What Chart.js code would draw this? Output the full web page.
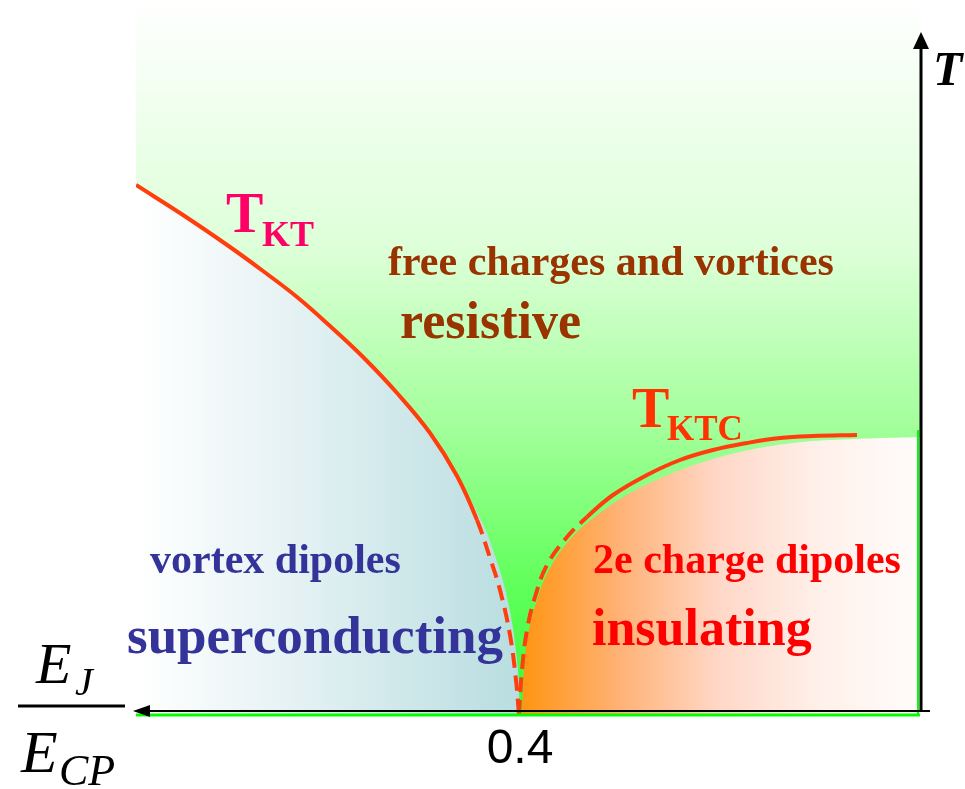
<!DOCTYPE html>
<html>
<head>
<meta charset="utf-8">
<title>JJ array phase diagram</title>
<script src="https://cdn.jsdelivr.net/npm/chart.js@4.4.1/dist/chart.umd.min.js"></script>
<style>
  html, body { margin: 0; padding: 0; background: #fff; }
  #wrap { width: 965px; height: 789px; }
</style>
</head>
<body>
<div id="wrap"><canvas id="phase" width="965" height="789"></canvas></div>
<script>
// E_J/E_CP grows to the left, T grows upward
const ratioMax = 0.784;
const tempMax = 1.43;
const xTicks = [0.4];

// Kosterlitz-Thouless line (vortex unbinding)
const tktRatio = [0.784, 0.737, 0.690, 0.657, 0.623, 0.590, 0.557, 0.523, 0.490, 0.463, 0.443, 0.430, 0.420, 0.410, 0.404, 0.401];
const tktTemp  = [1.06, 1.00, 0.936, 0.888, 0.836, 0.778, 0.716, 0.644, 0.564, 0.478, 0.39, 0.314, 0.25, 0.16, 0.07, 0];
// edge of the superconducting region
const scRatio = [0.784, 0.737, 0.690, 0.657, 0.623, 0.590, 0.557, 0.523, 0.490, 0.463, 0.439, 0.427, 0.413, 0.403, 0.400];
const scTemp  = [1.06, 1.00, 0.936, 0.888, 0.836, 0.778, 0.716, 0.644, 0.564, 0.478, 0.39, 0.33, 0.236, 0.11, 0];

// charge KT line (Cooper pair unbinding)
const tktcRatio = [0.401, 0.398, 0.393, 0.385, 0.373, 0.353, 0.333, 0.307, 0.273, 0.240, 0.207, 0.173, 0.140, 0.107, 0.063];
const tktcTemp  = [0, 0.09, 0.17, 0.236, 0.30, 0.356, 0.396, 0.44, 0.48, 0.51, 0.53, 0.544, 0.554, 0.558, 0.56];
// edge of the insulating region
const insRatio = [0.398, 0.396, 0.392, 0.383, 0.371, 0.348, 0.320, 0.290, 0.257, 0.220, 0.180, 0.135, 0.090, 0];
const insTemp  = [0, 0.09, 0.16, 0.23, 0.29, 0.356, 0.404, 0.444, 0.476, 0.504, 0.526, 0.542, 0.55, 0.556];

// whole resistive background
const resRatio = [ratioMax, 0];
const resTemp  = [tempMax, tempMax];

const LINE_RED = '#ff3d0d';
const SERIF = '"Liberation Serif", "Times New Roman", serif';

function pts(xs, ys) {
    return xs.map((v, i) => ({ x: v, y: ys[i] }));
}

function greenFill(context) {
    const { ctx, chartArea } = context.chart;
    if (!chartArea) return 'transparent';
    const g = ctx.createLinearGradient(0, chartArea.top, 0, chartArea.bottom);
    g.addColorStop(0, '#ffffff');
    g.addColorStop(0.35, '#ddffd8');
    g.addColorStop(0.6, '#a2ff9a');
    g.addColorStop(0.8, '#66ff60');
    g.addColorStop(1, '#33ff33');
    return g;
}

function scFill(context) {
    const { ctx, chartArea, scales } = context.chart;
    if (!chartArea) return 'transparent';
    const g = ctx.createLinearGradient(chartArea.left, 0, scales.x.getPixelForValue(0.4), 0);
    g.addColorStop(0, '#ffffff');
    g.addColorStop(0.4, '#e6f2f4');
    g.addColorStop(1, '#b8dde0');
    return g;
}

function insFill(context) {
    const { ctx, chartArea, scales } = context.chart;
    if (!chartArea) return 'transparent';
    const g = ctx.createLinearGradient(scales.x.getPixelForValue(0.4), 0, chartArea.right, 0);
    g.addColorStop(0, '#ff9410');
    g.addColorStop(0.25, '#ffb276');
    g.addColorStop(0.5, '#ffd8c8');
    g.addColorStop(0.75, '#fff0ea');
    g.addColorStop(1, '#fffcfb');
    return g;
}

function region(data, bg, order) {
    return {
        data: data,
        fill: 'origin',
        backgroundColor: bg,
        borderColor: 'transparent',
        borderWidth: 0,
        pointRadius: 0,
        tension: 0.4,
        order: order
    };
}

function curve(data, dashed) {
    return {
        data: data,
        fill: false,
        borderColor: LINE_RED,
        borderWidth: 4,
        pointRadius: 0,
        tension: 0.4,
        segment: { borderDash: ctx => dashed(ctx) ? [15, 8] : undefined },
        order: 1
    };
}

function drawText(ctx, str, x, y, font, color) {
    ctx.font = font;
    ctx.fillStyle = color;
    ctx.fillText(str, x, y);
}

// axes, arrows and all the labels
const decor = {
    id: 'decor',
    afterDatasetsDraw(chart) {
        const { ctx, chartArea: a, scales } = chart;
        ctx.save();

        // green edges of the plot
        ctx.strokeStyle = '#00ff00';
        ctx.lineWidth = 3;
        ctx.beginPath();
        ctx.moveTo(a.left, a.bottom);
        ctx.lineTo(a.right, a.bottom);
        ctx.stroke();
        ctx.lineWidth = 2;
        ctx.beginPath();
        ctx.moveTo(a.right - 2, 430);
        ctx.lineTo(a.right - 2, a.bottom);
        ctx.stroke();

        // E_J/E_CP axis pointing left
        ctx.strokeStyle = '#000';
        ctx.fillStyle = '#000';
        ctx.lineWidth = 2;
        ctx.beginPath();
        ctx.moveTo(146, a.bottom - 4);
        ctx.lineTo(a.right + 10, a.bottom - 4);
        ctx.stroke();
        ctx.beginPath();
        ctx.moveTo(133, a.bottom - 4);
        ctx.lineTo(150, a.bottom - 10);
        ctx.lineTo(150, a.bottom + 2);
        ctx.closePath();
        ctx.fill();

        // T axis pointing up
        ctx.lineWidth = 3;
        ctx.beginPath();
        ctx.moveTo(a.right + 1, 46);
        ctx.lineTo(a.right + 1, a.bottom - 3);
        ctx.stroke();
        ctx.beginPath();
        ctx.moveTo(a.right + 1, 32);
        ctx.lineTo(a.right - 7, 49);
        ctx.lineTo(a.right + 9, 49);
        ctx.closePath();
        ctx.fill();

        // tick labels
        ctx.textAlign = 'center';
        ctx.textBaseline = 'alphabetic';
        xTicks.forEach(t => {
            drawText(ctx, String(t), scales.x.getPixelForValue(t), 763,
                '48px "Liberation Sans", Arial, sans-serif', '#000');
        });

        ctx.textAlign = 'left';
        // axis titles
        drawText(ctx, 'T', 933, 85, 'italic bold 48px ' + SERIF, '#000');
        drawText(ctx, 'E', 36, 683, 'italic 58px ' + SERIF, '#000');
        drawText(ctx, 'J', 75, 695, 'italic 40px ' + SERIF, '#000');
        ctx.lineWidth = 3;
        ctx.beginPath();
        ctx.moveTo(18, 706);
        ctx.lineTo(125, 706);
        ctx.stroke();
        drawText(ctx, 'E', 21, 772, 'italic 60px ' + SERIF, '#000');
        drawText(ctx, 'CP', 59, 785, 'italic 44px ' + SERIF, '#000');

        // line names
        drawText(ctx, 'T', 226, 232, 'bold 56px ' + SERIF, '#ff0066');
        drawText(ctx, 'KT', 262, 246, 'bold 36px ' + SERIF, '#ff0066');
        drawText(ctx, 'T', 632, 427, 'bold 56px ' + SERIF, '#ff3300');
        drawText(ctx, 'KTC', 667, 440, 'bold 35px ' + SERIF, '#ff3300');

        // phases
        drawText(ctx, 'free charges and vortices', 388, 275, 'bold 42px ' + SERIF, '#993300');
        drawText(ctx, 'resistive', 400, 338, 'bold 52px ' + SERIF, '#993300');
        drawText(ctx, 'vortex dipoles', 150, 573, 'bold 42px ' + SERIF, '#333399');
        drawText(ctx, 'superconducting', 127, 653, 'bold 53px ' + SERIF, '#333399');
        drawText(ctx, '2e charge dipoles', 593, 573, 'bold 42px ' + SERIF, '#ff0000');
        drawText(ctx, 'insulating', 592, 645, 'bold 52px ' + SERIF, '#ff0000');

        ctx.restore();
    }
};

new Chart(document.getElementById('phase'), {
    type: 'line',
    data: {
        datasets: [
            region(pts(resRatio, resTemp), greenFill, 3),
            region(pts(scRatio, scTemp), scFill, 2),
            region(pts(insRatio, insTemp), insFill, 2),
            curve(pts(tktRatio, tktTemp), ctx => ctx.p0.parsed.y < 0.395),
            curve(pts(tktcRatio, tktcTemp), ctx => ctx.p1.parsed.y < 0.42)
        ]
    },
    options: {
        responsive: false,
        animation: false,
        events: [],
        layout: { padding: { left: 136, right: 45, top: 0, bottom: 74 } },
        scales: {
            x: { type: 'linear', reverse: true, min: 0, max: ratioMax, display: false },
            y: { type: 'linear', min: 0, max: tempMax, display: false }
        },
        plugins: {
            legend: { display: false },
            tooltip: { enabled: false }
        }
    },
    plugins: [decor]
});
</script>
</body>
</html>
